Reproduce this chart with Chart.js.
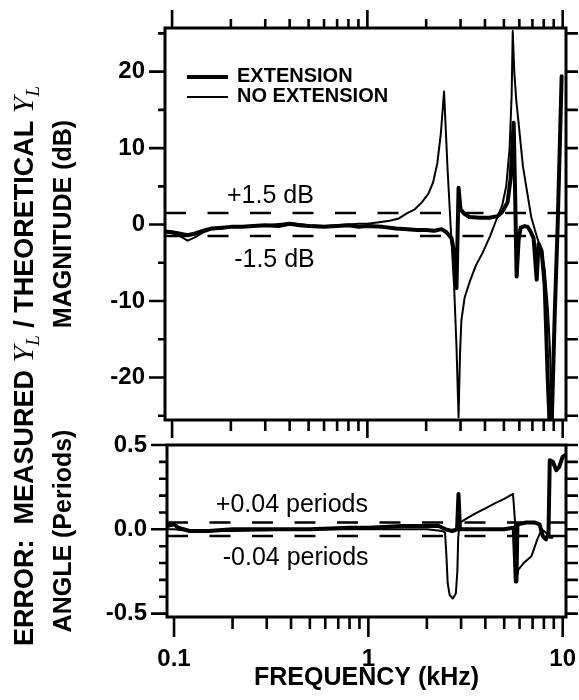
<!DOCTYPE html>
<html>
<head>
<meta charset="utf-8">
<script src="https://cdn.jsdelivr.net/npm/chart.js@4.4.1/dist/chart.umd.min.js"></script>
<style>
  html, body { margin: 0; padding: 0; background: #fff; }
  #wrap { position: relative; width: 579px; height: 700px; }
  #wrap canvas { position: absolute; left: 0; top: 0; }
</style>
</head>
<body>
<div id="wrap">
  <canvas id="mag" width="579" height="700"></canvas>
  <canvas id="ang" width="579" height="700"></canvas>
</div>
<script>
// Ошибка измерения Y_L: модуль (дБ) и фаза (периоды), с удлинителем и без.
// Два графика на общей лог-оси частоты, холсты наложены друг на друга.

// ось частоты, кГц
const FREQ_MIN = 0.092, FREQ_MAX = 10.4;
const FREQ_MAJOR = [0.1, 1, 10];
const FREQ_MINOR = [0.2, 0.3, 0.4, 0.5, 0.6, 0.7, 0.8, 0.9, 2, 3, 4, 5, 6, 7, 8, 9];

// деления по Y
const MAG_MIN = -25.55, MAG_MAX = 25.7;
const MAG_MAJOR = [-20, -10, 0, 10, 20];
const MAG_MINOR = [-25, -15, -5, 5, 15, 25];
const ANG_MIN = -0.52, ANG_MAX = 0.5;
const ANG_MAJOR = [-0.5, 0, 0.5];
const ANG_MINOR = [-0.4, -0.3, -0.2, -0.1, 0.1, 0.2, 0.3, 0.4];

// допуски (пунктир)
const MAG_TOL = [1.5, -1.5];
const ANG_TOL = [0.04, -0.04];

// EXTENSION, модуль
const extMagF = [0.092, 0.1, 0.11, 0.12, 0.13, 0.145, 0.16, 0.18, 0.2, 0.23, 0.26, 0.3, 0.35, 0.4, 0.45, 0.5,
  0.6, 0.7, 0.8, 0.9, 1.0, 1.2, 1.4, 1.6, 1.8, 2.0, 2.2, 2.4, 2.54, 2.7, 2.79, 2.86, 2.93, 3.0, 3.14, 3.33,
  3.75, 4.22, 4.64, 4.92, 5.22, 5.41, 5.61, 5.7, 5.81, 5.95, 6.09, 6.39, 6.62, 6.85, 7.1, 7.36, 7.53, 7.81,
  8.09, 8.38, 8.58, 8.78, 9.1, 9.43, 9.88];
const extMagV = [-0.9, -1.0, -1.2, -1.4, -1.2, -0.8, -0.5, -0.4, -0.3, -0.3, -0.2, -0.1, -0.2, 0.1, -0.1, -0.2,
  -0.3, -0.2, -0.1, -0.3, -0.2, -0.3, -0.5, -0.6, -0.7, -0.7, -0.8, -0.6, -1.0, -1.8, -4.0, -8.3, 4.8, 2.0, 1.4, 1.0,
  0.9, 0.9, 1.1, 1.7, 2.9, 6.0, 13.3, 5.0, -6.8, -2.0, -0.4, -0.2, -0.3, -0.9, -1.8, -7.2, -2.5, -3.5,
  -8.0, -20.0, -26.5, -26.5, -12.0, 0.0, 19.4];

// NO EXTENSION, модуль
const noExtMagF = [0.092, 0.1, 0.11, 0.12, 0.13, 0.145, 0.16, 0.18, 0.2, 0.25, 0.3, 0.4, 0.5, 0.6, 0.7, 0.8,
  0.9, 1.0, 1.15, 1.3, 1.45, 1.6, 1.75, 1.9, 2.05, 2.17, 2.28, 2.38, 2.47, 2.57, 2.68, 2.78, 2.86, 2.93,
  2.98, 3.03, 3.15, 3.33, 3.6, 3.89, 4.25, 4.57, 4.9, 5.14, 5.35, 5.48, 5.55, 5.65, 5.78, 6.26, 6.9, 7.36,
  7.8, 8.1, 8.4, 8.6, 8.85];
const noExtMagV = [-1.0, -1.1, -1.5, -2.1, -1.7, -1.0, -0.6, -0.5, -0.3, -0.2, -0.1, 0.2, -0.1, -0.2, -0.1, 0.0,
  0.1, 0.1, 0.3, 0.5, 0.8, 1.5, 2.0, 2.9, 4.0, 5.5, 8.0, 12.0, 17.4, 7.6, -1.0, -8.0, -16.0, -25.2,
  -17.0, -12.5, -9.5, -7.6, -5.3, -3.7, -1.5, 0.6, 2.5, 5.0, 10.0, 17.0, 25.3, 20.0, 16.4, 7.6, 1.0, -1.5,
  -3.5, -6.0, -11.0, -16.0, -27.0];

// EXTENSION, фаза
const extAngF = [0.092, 0.1, 0.105, 0.12, 0.15, 0.2, 0.3, 0.5, 0.8, 1.0, 1.5, 2.0, 2.3, 2.5, 2.7, 2.86, 2.91,
  2.96, 3.2, 4.0, 5.0, 5.6, 5.74, 5.78, 5.85, 6.5, 7.2, 7.6, 7.9, 8.2, 8.45, 8.58, 8.9, 9.27, 9.6, 9.99, 10.3];
const extAngV = [0.02, 0.03, 0.01, -0.01, -0.01, 0.0, 0.0, 0.0, 0.01, 0.01, 0.02, 0.02, 0.02, 0.0, -0.01, 0.0, 0.21,
  0.0, 0.0, 0.0, 0.0, 0.01, -0.31, -0.31, 0.03, 0.04, 0.04, 0.03, -0.04, -0.06, -0.03, 0.41, 0.4, 0.35, 0.37, 0.43, 0.44];

// NO EXTENSION, фаза
const noExtAngF = [0.092, 0.1, 0.12, 0.2, 0.5, 1.0, 2.0, 2.4, 2.48, 2.52, 2.56, 2.62, 2.72, 2.82, 2.87, 2.9,
  2.95, 3.5, 4.0, 4.5, 5.0, 5.55, 5.68, 5.76, 5.9, 6.3, 6.9, 7.2, 7.4, 7.8, 8.2, 8.6, 8.85];
const noExtAngV = [0.0, 0.0, -0.01, -0.01, 0.0, 0.0, 0.0, -0.01, -0.02, -0.15, -0.32, -0.39, -0.41, -0.38, -0.25, -0.05,
  0.04, 0.09, 0.124, 0.155, 0.18, 0.21, 0.05, -0.31, -0.24, -0.2, -0.16, -0.1, -0.06, 0.0, -0.02, -0.05, -0.05];

const SANS = "'Liberation Sans', Arial, Helvetica, sans-serif";
const SERIF = "'Liberation Serif', 'Times New Roman', serif";

const pts = (xs, ys) => xs.map((x, i) => ({ x, y: ys[i] }));
const flat = (v) => [{ x: FREQ_MIN, y: v }, { x: FREQ_MAX, y: v }];

function curve(label, xs, ys, w) {
  return {
    label, data: pts(xs, ys), borderColor: "#000", borderWidth: w,
    pointRadius: 0, tension: 0, borderJoinStyle: "round", borderCapStyle: "round",
  };
}
function tol(v) {
  return {
    label: "tol", data: flat(v), borderColor: "#000", borderWidth: 2.5,
    borderDash: [21, 21.5], pointRadius: 0, tension: 0,
  };
}

// рамка + засечки со всех сторон (внешние), длины как в оригинале
function makeFrame(cfg) {
  return {
    id: "frame",
    afterDatasetsDraw(chart) {
      const { ctx, chartArea: a } = chart;
      const xs = chart.scales.x, ys = chart.scales.y;
      ctx.save();
      ctx.strokeStyle = "#000";
      ctx.lineWidth = 3;
      ctx.strokeRect(a.left, a.top, a.right - a.left, a.bottom - a.top);
      ctx.lineWidth = 2.6;
      ctx.beginPath();
      const yt = (vals, l) => vals.forEach(v => {
        const p = ys.getPixelForValue(v);
        ctx.moveTo(a.left - l, p); ctx.lineTo(a.left, p);
        ctx.moveTo(a.right, p); ctx.lineTo(a.right + cfg.right, p);
      });
      yt(cfg.yMajor, cfg.left[0]);
      yt(cfg.yMinor, cfg.left[1]);
      const xt = (vals, k) => vals.forEach(v => {
        const p = xs.getPixelForValue(v);
        if (cfg.top) { ctx.moveTo(p, a.top); ctx.lineTo(p, a.top - cfg.top[k]); }
        if (cfg.bottom) { ctx.moveTo(p, a.bottom); ctx.lineTo(p, a.bottom + cfg.bottom[k]); }
      });
      xt(FREQ_MAJOR, 0);
      xt(FREQ_MINOR, 1);
      ctx.stroke();
      ctx.restore();
    }
  };
}

function note(ctx, text, x, y) {
  ctx.font = "25px " + SANS;
  ctx.textAlign = "left";
  ctx.textBaseline = "alphabetic";
  ctx.fillText(text, x, y);
}

const magNotes = {
  id: "magNotes",
  afterDatasetsDraw(chart) {
    const { ctx, chartArea: a } = chart;
    const xs = chart.scales.x, ys = chart.scales.y;
    ctx.save();
    ctx.fillStyle = "#000";
    ctx.strokeStyle = "#000";
    // легенда
    const ds = chart.data.datasets;
    [0, 1].forEach(i => {
      const y = a.top + 49 + i * 20;
      ctx.lineWidth = ds[i].borderWidth;
      ctx.beginPath();
      ctx.moveTo(a.left + 22, y); ctx.lineTo(a.left + 63, y);
      ctx.stroke();
      ctx.font = "bold 20px " + SANS;
      ctx.textBaseline = "middle";
      ctx.fillText(ds[i].label, a.left + 72, y - 1);
    });
    note(ctx, "+1.5 dB", xs.getPixelForValue(0.191), ys.getPixelForValue(MAG_TOL[0]) - 10);
    note(ctx, "-1.5 dB", xs.getPixelForValue(0.208), ys.getPixelForValue(MAG_TOL[1]) + 31);
    ctx.restore();
  }
};

const angNotes = {
  id: "angNotes",
  afterDatasetsDraw(chart) {
    const { ctx } = chart;
    const xs = chart.scales.x, ys = chart.scales.y;
    ctx.save();
    ctx.fillStyle = "#000";
    note(ctx, "+0.04 periods", xs.getPixelForValue(0.164), ys.getPixelForValue(ANG_TOL[0]) - 11);
    note(ctx, "-0.04 periods", xs.getPixelForValue(0.178), ys.getPixelForValue(ANG_TOL[1]) + 29);

    // общая подпись слева: ERROR:  MEASURED Y_L / THEORETICAL Y_L
    const bold = "bold 27px " + SANS;
    const yf = "italic 30px " + SERIF;
    const lf = "italic 19px " + SERIF;
    const parts = [
      [bold, "ERROR:  MEASURED ", 0], [yf, "Y", 0], [lf, "L", 6],
      [bold, " / THEORETICAL ", 0], [yf, "Y", 0], [lf, "L", 6],
    ];
    let w = 0;
    parts.forEach(p => { ctx.font = p[0]; w += ctx.measureText(p[1]).width; });
    ctx.translate(23, 366);
    ctx.rotate(-Math.PI / 2);
    ctx.textBaseline = "alphabetic";
    ctx.textAlign = "left";
    let x = -w / 2;
    parts.forEach(p => {
      ctx.font = p[0];
      ctx.fillText(p[1], x, 10 + p[2]);
      x += ctx.measureText(p[1]).width;
    });
    ctx.restore();
  }
};

const tickFont = { family: SANS, size: 24, weight: "bold" };
const titleFont = { family: SANS, size: 25, weight: "bold" };

function yScale(min, max, major, fmt, title, width) {
  return {
    position: "left", min, max,
    grid: { display: false, drawTicks: false }, border: { display: false },
    afterBuildTicks: s => { s.ticks = major.map(v => ({ value: v })); },
    afterFit: s => { s.width = width; s.paddingTop = 0; s.paddingBottom = 0; },
    ticks: { font: tickFont, color: "#000", padding: 20, callback: fmt },
    title: { display: true, text: title, font: titleFont, color: "#000", padding: { top: 49, bottom: 0 } },
  };
}

const common = {
  responsive: false, animation: false, events: [],
  plugins: { legend: { display: false }, tooltip: { enabled: false } },
};

new Chart(document.getElementById("mag"), {
  type: "line",
  data: {
    datasets: [
      curve("EXTENSION", extMagF, extMagV, 4),
      curve("NO EXTENSION", noExtMagF, noExtMagV, 2),
      tol(MAG_TOL[0]), tol(MAG_TOL[1]),
    ]
  },
  options: {
    ...common,
    layout: { padding: { left: 0, right: 13, top: 28, bottom: 280 } },
    scales: {
      x: { type: "logarithmic", min: FREQ_MIN, max: FREQ_MAX, display: false },
      y: yScale(MAG_MIN, MAG_MAX, MAG_MAJOR, v => String(v), "MAGNITUDE (dB)", 165),
    },
  },
  plugins: [makeFrame({ yMajor: MAG_MAJOR, yMinor: MAG_MINOR, left: [16, 7], right: 12,
    top: [18, 9], bottom: [18, 11] }), magNotes],
});

new Chart(document.getElementById("ang"), {
  type: "line",
  data: {
    datasets: [
      curve("EXTENSION", extAngF, extAngV, 4),
      curve("NO EXTENSION", noExtAngF, noExtAngV, 2),
      tol(ANG_TOL[0]), tol(ANG_TOL[1]),
    ]
  },
  options: {
    ...common,
    layout: { padding: { left: 0, right: 13, top: 445, bottom: 0 } },
    scales: {
      x: {
        type: "logarithmic", min: FREQ_MIN, max: FREQ_MAX, position: "bottom",
        grid: { display: false, drawTicks: false }, border: { display: false },
        afterBuildTicks: s => { s.ticks = FREQ_MAJOR.map(v => ({ value: v })); },
        afterFit: s => { s.height = 83; s.paddingLeft = 0; s.paddingRight = 0; },
        ticks: { font: tickFont, color: "#000", padding: 28, maxRotation: 0, autoSkip: false,
          callback: v => String(v) },
        title: { display: true, text: "FREQUENCY (kHz)", font: titleFont, color: "#000",
          padding: { top: 0, bottom: 7 } },
      },
      y: yScale(ANG_MIN, ANG_MAX, ANG_MAJOR, v => Number(v).toFixed(1), "ANGLE (Periods)", 167),
    },
  },
  plugins: [makeFrame({ yMajor: ANG_MAJOR, yMinor: ANG_MINOR, left: [16, 8], right: 12,
    top: null, bottom: [20, 12] }), angNotes],
});
</script>
</body>
</html>
